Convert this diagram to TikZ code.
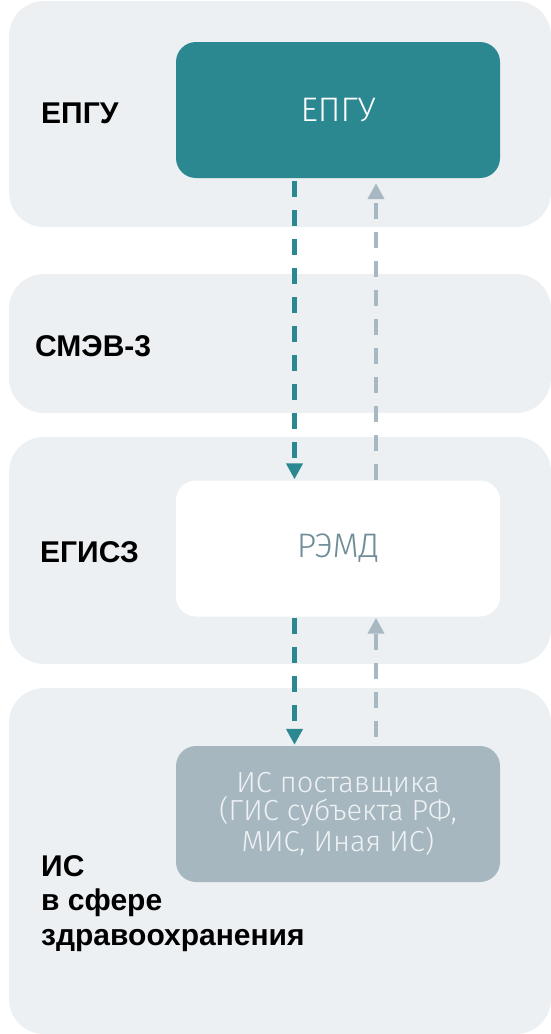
\documentclass[tikz,border=0pt]{standalone}
\usepackage{fontspec}
\setmainfont{Liberation Sans}
\IfFontExistsTF{Fira Sans Light}{\newfontfamily\lightfont{Fira Sans Light}}{%
	\IfFontExistsTF{Open Sans Light}{\newfontfamily\lightfont{Open Sans Light}}{%
		\IfFontExistsTF{Lato Light}{\newfontfamily\lightfont{Lato Light}}{%
			\newfontfamily\lightfont{Fira Sans}}}}
\usetikzlibrary{arrows.meta}

\definecolor{bandgray}{HTML}{ECF0F3}
\definecolor{tealc}{HTML}{2B8891}
\definecolor{arrowgray}{HTML}{A8B8C2}
\definecolor{boxgray}{HTML}{A6B7C0}
\definecolor{remdtext}{HTML}{6F8D99}
\definecolor{istext}{HTML}{EEF2F4}

\begin{document}
\begin{tikzpicture}[x=1pt, y=-1pt,
		band/.style={fill=bandgray, rounded corners=35pt},
		sysbox/.style={rounded corners=20pt, minimum width=324pt, minimum height=136pt,
			inner sep=0pt, align=center, font=\lightfont\fontsize{29}{28.5}\selectfont},
		wordbox/.style={sysbox, font=\lightfont\fontsize{34}{36}\selectfont},
		layerlabel/.style={inner sep=0pt, align=left, font=\bfseries\fontsize{30}{34.5}\selectfont},
		downflow/.style={tealc, line width=4.3pt, dash pattern=on 16pt off 13pt,
			-{Triangle[width=16pt, length=16pt]}},
		upflow/.style={arrowgray, line width=4.3pt, dash pattern=on 16pt off 13pt,
			-{Triangle[width=16pt, length=16pt]}}]
		
		% Page
		\useasboundingbox (0, 0) rectangle (551, 1034);
		\fill[white] (0, 0) rectangle (551, 1034);
		
		% Layer bands
		\fill[band] (9, 1) rectangle (551, 227);
		\fill[band] (9, 274) rectangle (551, 413);
		\fill[band] (9, 437) rectangle (551, 664);
		\fill[band] (9, 688) rectangle (551, 1034);
		
		% Layer labels
		\node[layerlabel, anchor=base west] (lepgu) at (41, 123) {ЕПГУ};
		\node[layerlabel, anchor=base west] (lsmev) at (35, 356) {СМЭВ-3};
		\node[layerlabel, anchor=base west] (legisz) at (40, 562) {ЕГИСЗ};
		\node[layerlabel, anchor=north west] (lis) at (41, 855) {ИС\\в сфере\\здравоохранения};
		
		% Systems
		\node[wordbox, fill=tealc, text=white] (epgu) at (338, 110) {ЕПГУ};
		\node[wordbox, fill=white, text=remdtext] (remd) at (338, 548.5) {РЭМД};
		\node[sysbox, fill=boxgray, text=istext] (ispost) at (338, 814) {ИС поставщика\\(ГИС субъекта РФ,\\МИС, Иная ИС)};
		
		% Requests down
		\draw[downflow, shorten <=3pt, shorten >=1pt] ([xshift=-43.5pt]epgu.south) -- ([xshift=-43.5pt]remd.north);
		\draw[downflow, shorten <=1pt, shorten >=1pt] ([xshift=-43.5pt]remd.south) -- ([xshift=-43.5pt]ispost.north);
		
		% Responses up
		\draw[upflow, shorten >=5pt] ([xshift=38pt]remd.north) -- ([xshift=38pt]epgu.south);
		\draw[upflow, shorten <=9pt, shorten >=1pt] ([xshift=38pt]ispost.north) -- ([xshift=38pt]remd.south);
	\end{tikzpicture}
\end{document}
